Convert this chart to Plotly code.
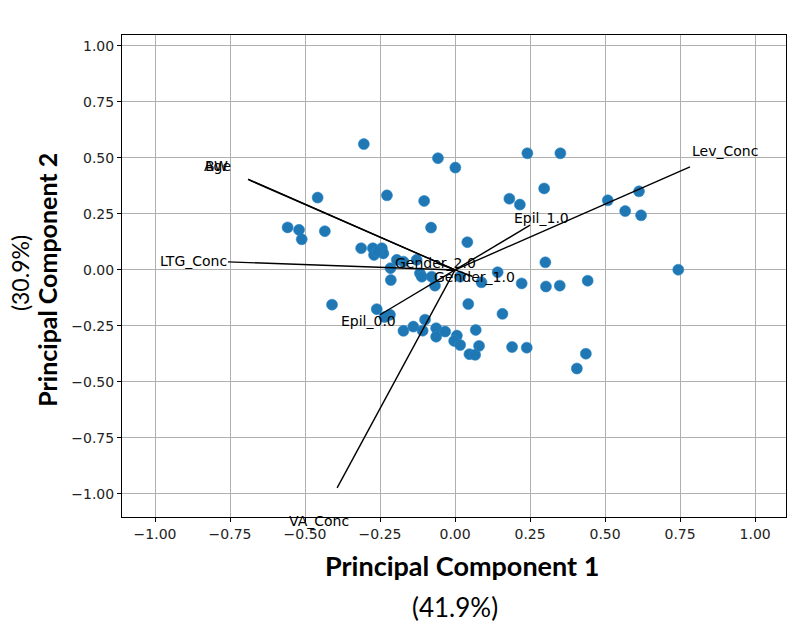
import plotly.graph_objects as go

# PCA scores (PC1, PC2)
pc1 = [-0.304, -0.057, 0.001, 0.241, 0.351, -0.458, -0.227, -0.103, 0.181, 0.216,
       0.297, -0.080, -0.558, -0.520, -0.511, -0.434, 0.041, -0.313, -0.274, -0.270,
       -0.244, -0.239, -0.257, -0.194, -0.128, -0.172, -0.215, -0.214, -0.117, -0.111,
       -0.078, -0.067, 0.017, 0.088, 0.142, 0.222, 0.509, 0.613, 0.567, 0.620,
       0.744, 0.301, 0.303, 0.349, 0.442, -0.410, -0.261, -0.217, -0.235, -0.172,
       -0.139, -0.100, -0.108, -0.063, -0.063, -0.033, 0.006, -0.003, 0.017, 0.048,
       0.067, 0.080, 0.069, 0.044, 0.158, 0.190, 0.239, 0.436, 0.406]
pc2 = [0.562, 0.499, 0.457, 0.521, 0.521, 0.323, 0.333, 0.308, 0.318, 0.292,
       0.364, 0.189, 0.190, 0.179, 0.137, 0.173, 0.124, 0.097, 0.097, 0.067,
       0.097, 0.074, 0.082, 0.045, 0.045, 0.037, 0.008, -0.045, -0.015, -0.030,
       -0.030, -0.070, -0.030, -0.055, -0.010, -0.060, 0.311, 0.351, 0.263, 0.244,
       0.001, 0.034, -0.074, -0.070, -0.048, -0.155, -0.175, -0.200, -0.210, -0.272,
       -0.253, -0.222, -0.271, -0.260, -0.298, -0.275, -0.293, -0.317, -0.335, -0.376,
       -0.379, -0.339, -0.268, -0.152, -0.196, -0.344, -0.347, -0.374, -0.440]

# loadings
features = ["Age", "BW", "LTG_Conc", "Lev_Conc", "VA_Conc",
            "Epil_1.0", "Epil_0.0", "Gender_2.0", "Gender_1.0"]
load1 = [-0.687, -0.690, -0.757, 0.783, -0.393, 0.250, -0.250, -0.057, 0.057]
load2 = [0.402, 0.405, 0.036, 0.460, -0.973, 0.200, -0.200, 0.028, -0.028]

xrange_ = [-1.11, 1.103]
yrange_ = [-1.103, 1.049]

fig = go.Figure()

fig.add_trace(go.Scatter(
    x=pc1, y=pc2, mode="markers",
    marker=dict(size=11, color="#1f77b4", line=dict(width=0.6, color="#2a86c8")),
    showlegend=False, hoverinfo="skip"))

for name, lx, ly in zip(features, load1, load2):
    fig.add_trace(go.Scatter(
        x=[0, lx], y=[0, ly], mode="lines",
        line=dict(color="black", width=1.4),
        showlegend=False, hoverinfo="skip"))

# feature labels at 1.15x the loading; use paper coords so labels beyond the
# axis range (VA_Conc) are still shown
annotations = []
for name, lx, ly in zip(features, load1, load2):
    px = (lx * 1.15 - xrange_[0]) / (xrange_[1] - xrange_[0])
    py = (ly * 1.15 - yrange_[0]) / (yrange_[1] - yrange_[0])
    annotations.append(dict(
        text=name, xref="paper", yref="paper", x=px, y=py, showarrow=False,
        xanchor="center", yanchor="middle",
        font=dict(family="DejaVu Sans", size=14, color="black")))

axis_common = dict(
    dtick=0.25, tickformat=".2f", showgrid=True, gridcolor="#b0b0b0", gridwidth=1,
    zeroline=False, showline=True, linecolor="black", linewidth=1, mirror=True,
    ticks="outside", ticklen=4, tickcolor="black",
    tickfont=dict(family="DejaVu Sans", size=14, color="#222"))

fig.update_xaxes(range=xrange_, tick0=-1, **axis_common)
fig.update_yaxes(range=yrange_, tick0=-1, **axis_common)

annotations += [
    dict(text="<b>Principal Component 1</b>", xref="paper", yref="paper",
         x=0.512, y=-0.0996, showarrow=False, xanchor="center", yanchor="middle",
         font=dict(family="Lato", size=27, color="black")),
    dict(text="(41.9%)", xref="paper", yref="paper",
         x=0.5015, y=-0.187, showarrow=False, xanchor="center", yanchor="middle",
         font=dict(family="Lato", size=26, color="black")),
    dict(text="<b>Principal Component 2</b>", xref="paper", yref="paper",
         x=-0.113, y=0.492, showarrow=False, textangle=-90,
         xanchor="center", yanchor="middle",
         font=dict(family="Lato", size=25, color="black")),
    dict(text="(30.9%)", xref="paper", yref="paper",
         x=-0.1536, y=0.506, showarrow=False, textangle=-90,
         xanchor="center", yanchor="middle",
         font=dict(family="Lato", size=23, color="black")),
]

# page body adds 8px offset, so margins are shifted accordingly
fig.update_layout(
    width=798, height=625,
    margin=dict(l=114, r=20, t=27, b=116),
    plot_bgcolor="white", paper_bgcolor="white",
    annotations=annotations,
)

fig.write_html("out.html")
